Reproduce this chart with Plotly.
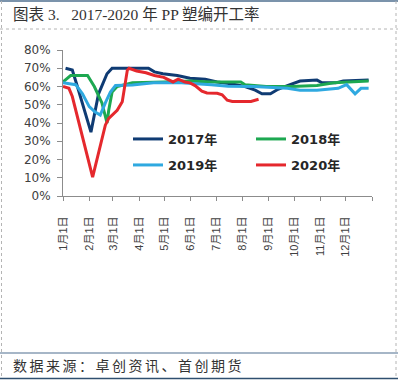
import plotly.graph_objects as go
import pandas as pd

# ---------------- data ----------------
month_ticks = ["1月1日", "2月1日", "3月1日", "4月1日", "5月1日", "6月1日",
               "7月1日", "8月1日", "9月1日", "10月1日", "11月1日", "12月1日"]

dates_2017 = ["01-04", "01-12", "01-18", "02-03", "02-12", "02-22", "02-28", "04-12",
              "04-19", "04-29", "05-16", "05-31", "06-18", "07-02", "07-18", "08-04",
              "08-16", "08-24", "09-03", "09-12", "09-23", "10-08", "10-28", "11-03",
              "11-19", "11-28", "12-28"]
vals_2017 = [70, 69, 60, 35, 56, 67, 70, 70,
             68, 67, 66, 64.5, 64, 62.5, 61.5, 60,
             58, 56, 56, 58.5, 60.5, 63, 63.5, 62,
             62, 63, 63.5]

dates_2018 = ["01-01", "01-10", "01-30", "02-07", "02-16", "02-22", "02-24", "02-28",
              "03-06", "03-24", "05-01", "05-31", "06-25", "07-30", "08-04", "08-29",
              "09-28", "10-28", "11-17", "12-12", "12-28"]
vals_2018 = [62.5, 66, 66, 60, 51, 40, 47, 57,
             60, 62, 62.5, 63, 62.5, 62.5, 61, 60,
             60, 60.5, 62, 62.5, 63]

dates_2019 = ["01-01", "01-16", "01-24", "02-01", "02-08", "02-14", "02-20", "02-26",
              "03-04", "03-24", "04-18", "05-21", "06-25", "07-15", "08-14", "09-23",
              "10-08", "10-28", "11-22", "12-02", "12-12", "12-19", "12-28"]
vals_2019 = [62, 61, 56, 49, 46, 44.3, 51, 57,
             60.5, 60.8, 62, 62, 61, 60.2, 60, 59,
             58, 58, 59, 61, 56, 59, 59]

dates_2020 = ["01-01", "01-08", "01-12", "02-05", "02-20", "02-24", "03-06", "03-12",
              "03-18", "03-20", "03-29", "04-09", "04-19", "04-30", "05-11", "05-17",
              "05-25", "05-31", "06-06", "06-14", "06-20", "07-02", "07-08", "07-14",
              "07-20", "08-11", "08-20"]
vals_2020 = [60, 59, 54.5, 10.4, 38.8, 42.5, 47, 51.6,
             69, 70, 68.5, 67.5, 66, 65, 62.5, 64,
             62.5, 62, 60.5, 57.5, 56.5, 56.3, 55.5, 52.5,
             51.8, 51.8, 53]

series_names = ["2017年", "2018年", "2019年", "2020年"]
series_colors = ["#0F3B73", "#1DA851", "#2FA9E0", "#E5282D"]

# common (non-leap) dummy year so every year shares a Jan-Dec axis
BASE = "2021-"
def to_dates(md):
    return pd.to_datetime([BASE + d for d in md])

# ---------------- figure ----------------
W, H = 398, 382
ML, MR, MT, MB = 63, 26, 50, 186
PW, PH = W - ML - MR, H - MT - MB

def px(x):
    return (x - ML) / PW

def py(y):
    return (H - MB - y) / PH

fig = go.Figure()
all_dates = [dates_2017, dates_2018, dates_2019, dates_2020]
all_vals = [vals_2017, vals_2018, vals_2019, vals_2020]
legend_ids = ["legend", "legend", "legend2", "legend2"]
for name, d, v, c, lg in zip(series_names, all_dates, all_vals, series_colors, legend_ids):
    fig.add_trace(go.Scatter(
        x=to_dates(d), y=v, name=name, mode="lines",
        line=dict(color=c, width=3), legend=lg))

tickvals = pd.date_range("2021-01-01", "2022-01-01", freq="MS")
ticktext = month_ticks + [""]

axis_color = "#8C8C8C"
tick_font = dict(family="Liberation Sans, Noto Sans CJK SC", size=11, color="#404040")

fig.update_xaxes(
    type="date", range=["2021-01-01", "2022-01-01"],
    tickvals=tickvals, ticktext=ticktext, tickangle=-90,
    showgrid=False, zeroline=False, showline=True, linecolor=axis_color, linewidth=1,
    ticks="outside", ticklen=4, tickcolor=axis_color, tickfont=tick_font,
    ticklabelstandoff=11,
)
fig.update_yaxes(
    range=[0, 80], dtick=10, ticksuffix="%",
    showgrid=False, zeroline=False, showline=True, linecolor=axis_color, linewidth=1,
    ticks="outside", ticklen=5, tickcolor=axis_color,
    tickfont=dict(family="DejaVu Sans", size=12, color="#404040"),
    ticklabelstandoff=4,
)

leg_font = dict(family="DejaVu Sans, Noto Sans CJK SC", size=13, color="#262626", weight="bold")
common_leg = dict(orientation="h", xanchor="left", yanchor="middle",
                  bgcolor="rgba(0,0,0,0)", font=leg_font,
                  entrywidth=78, entrywidthmode="pixels", itemwidth=30,
                  traceorder="normal")

fig.update_layout(
    width=W, height=H,
    margin=dict(l=ML, r=MR, t=MT, b=MB, pad=0),
    paper_bgcolor="white", plot_bgcolor="white",
    showlegend=True,
    legend=dict(x=px(128), y=py(139), **common_leg),
    legend2=dict(x=px(128), y=py(165), **common_leg),
)

# ---------------- frame, title, source ----------------
frame_blue = "#4F6F8F"
dot_gray = "#B4B4B4"
shapes = [
    dict(type="line", xref="paper", yref="paper", x0=px(0), x1=px(W), y0=py(1), y1=py(1),
         line=dict(color=frame_blue, width=1.5)),
    dict(type="line", xref="paper", yref="paper", x0=px(0), x1=px(W), y0=py(29), y1=py(29),
         line=dict(color=dot_gray, width=1, dash="dot")),
    dict(type="line", xref="paper", yref="paper", x0=px(1.5), x1=px(1.5), y0=py(1), y1=py(378),
         line=dict(color=dot_gray, width=1, dash="dot")),
    dict(type="line", xref="paper", yref="paper", x0=px(396), x1=px(396), y0=py(1), y1=py(378),
         line=dict(color=dot_gray, width=1, dash="dot")),
    dict(type="line", xref="paper", yref="paper", x0=px(0), x1=px(W), y0=py(353), y1=py(353),
         line=dict(color=frame_blue, width=1.2)),
    dict(type="line", xref="paper", yref="paper", x0=px(0), x1=px(W), y0=py(378.5), y1=py(378.5),
         line=dict(color="#2F4F6F", width=1.5)),
]
fig.update_layout(shapes=shapes)

fig.add_annotation(
    xref="paper", yref="paper", x=px(11), y=py(15), xanchor="left", yanchor="middle",
    showarrow=False,
    text="图表 3.&nbsp;&nbsp; 2017-2020 年 PP 塑编开工率",
    font=dict(family="Liberation Serif, Noto Sans CJK SC", size=15.5, color="#333333"),
)
fig.add_annotation(
    xref="paper", yref="paper", x=px(11), y=py(365), xanchor="left", yanchor="middle",
    showarrow=False,
    text="<span style='letter-spacing:2.5px'>数据来源：卓创资讯、首创期货</span>",
    font=dict(family="Noto Sans CJK SC", size=14, color="#333333"),
)

fig.write_html("out.html", config={"displayModeBar": False},
               post_script="document.body.style.margin='0';")
